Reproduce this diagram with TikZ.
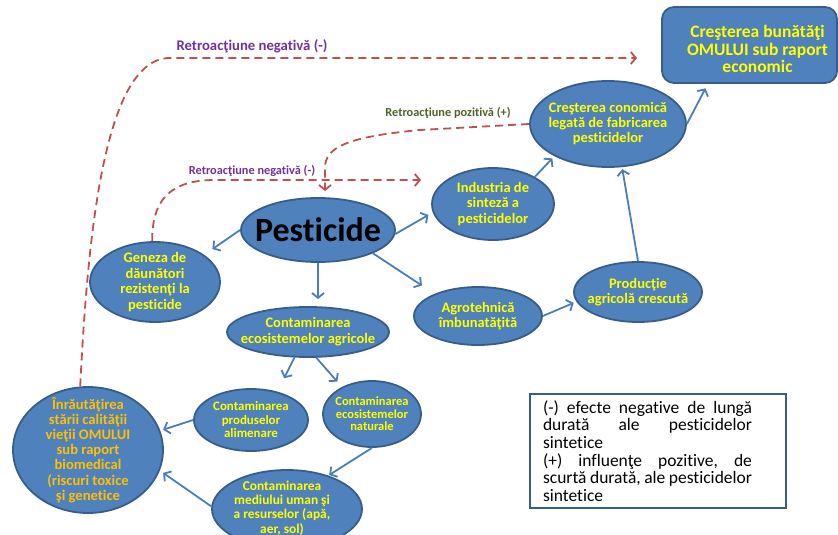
\documentclass[tikz,border=0pt]{standalone}
\usepackage{fontspec}
\setmainfont{Carlito}[Ligatures={NoCommon}]
\usetikzlibrary{shapes.geometric,arrows.meta,calc}
\definecolor{bfill}{HTML}{4F81BD}
\definecolor{bdraw}{HTML}{385D8A}
\definecolor{arrblue}{HTML}{4A7EBB}
\definecolor{fbred}{HTML}{C0504D}
\definecolor{purp}{HTML}{7030A0}
\definecolor{olivegreen}{HTML}{4F6228}
\definecolor{yel}{HTML}{FFFF00}
\definecolor{orng}{HTML}{FFC000}
\begin{document}
\begin{tikzpicture}[x=1pt,y=-1pt,
  ell/.style={ellipse, fill=bfill, draw=bdraw, line width=1.8pt, inner sep=0pt},
  etx/.style={align=center, text=yel, inner sep=0pt},
  arr/.style={draw=arrblue, line width=1.8pt, -{Straight Barb[length=5pt,width=12pt]}},
  fb/.style={draw=fbred, line width=1.8pt, dash pattern=on 8pt off 5pt, -{Straight Barb[length=5pt,width=12pt]}},
  fbl/.style={font=\bfseries\fontsize{12.3}{14}\selectfont, inner sep=0pt}
]
\useasboundingbox (0,0) rectangle (838,535);
\clip (0,0) rectangle (838,535);

% nodes
\node[rectangle, rounded corners=12pt, fill=bfill, draw=bdraw, line width=1.8pt,
      minimum width=175pt, minimum height=76pt, inner sep=0pt,
      label={[etx, xshift=8pt, yshift=-4pt, font=\bfseries\fontsize{17.5}{17.8}\selectfont]center:{Creşterea bunătăţi\\OMULUI sub raport\\economic}}] (top) at (749.5,45) {};

\node[ell, minimum width=154pt, minimum height=64pt,
      label={[etx, text=black, font=\bfseries\fontsize{34}{36}\selectfont]center:Pesticide}] (pest) at (318,230) {};

\node[ell, minimum width=130pt, minimum height=80pt,
      label={[etx, font=\bfseries\fontsize{14.5}{15.5}\selectfont]center:{Geneza de\\dăunători\\rezistenţi la\\pesticide}}] (gen) at (155,282) {};

\node[ell, minimum width=162pt, minimum height=50pt,
      label={[etx, font=\bfseries\fontsize{14.5}{16}\selectfont]center:{Contaminarea\\ecosistemelor agricole}}] (agr) at (308,332) {};

\node[ell, minimum width=122pt, minimum height=72pt,
      label={[etx, font=\bfseries\fontsize{14.5}{15.5}\selectfont]center:{Industria de\\sinteză a\\pesticidelor}}] (ind) at (493,204) {};

\node[ell, minimum width=156pt, minimum height=86pt,
      label={[etx, font=\bfseries\fontsize{14.5}{15}\selectfont]center:{Creşterea conomică\\legată de fabricarea\\pesticidelor}}] (cre) at (608,124) {};

\node[ell, minimum width=128pt, minimum height=58pt,
      label={[etx, font=\bfseries\fontsize{14.5}{15}\selectfont]center:{Agrotehnică\\îmbunatăţită}}] (agt) at (478,316) {};

\node[ell, minimum width=128pt, minimum height=60pt,
      label={[etx, font=\bfseries\fontsize{14.5}{15}\selectfont]center:{Producţie\\agricolă crescută}}] (prod) at (638,292) {};

\node[ell, minimum width=150pt, minimum height=126pt,
      label={[etx, text=orng, font=\bfseries\fontsize{14.6}{15.2}\selectfont]center:{Înrăutăţirea\\stării calităţii\\vieţii OMULUI\\sub raport\\biomedical\\(riscuri toxice\\şi genetice}}] (inr) at (88,450) {};

\node[ell, minimum width=114pt, minimum height=62pt,
      label={[etx, font=\bfseries\fontsize{12.9}{13.5}\selectfont]center:{Contaminarea\\produselor\\alimenare}}] (cpa) at (251,420) {};

\node[ell, minimum width=98pt, minimum height=66pt,
      label={[etx, font=\bfseries\fontsize{12.5}{12.5}\selectfont]center:{Contaminarea\\ecosistemelor\\naturale}}] (nat) at (372,414) {};

\node[ell, minimum width=150pt, minimum height=78pt,
      label={[etx, xshift=-5pt, yshift=1pt, font=\bfseries\fontsize{13.4}{14.3}\selectfont]center:{Contaminarea\\mediului uman şi\\a resurselor (apă,\\aer, sol)}}] (med) at (287,509) {};

% legend
\node[rectangle, draw=bdraw, line width=2pt, fill=white, minimum width=256pt, minimum height=114pt,
      text width=230pt, inner xsep=13pt, inner ysep=4pt, align=left,
      font=\fontsize{17.5}{17.6}\selectfont] (leg) at (658,451)
  {\makebox[209pt][l]{(-)\hfill efecte\hfill negative\hfill de\hfill lungă}\\
   \makebox[209pt][l]{durată\hfill ale\hfill pesticidelor}\\
   sintetice\\
   \makebox[209pt][l]{(+)\hfill influenţe\hfill pozitive,\hfill de}\\
   \makebox[209pt][l]{scurtă\hfill durată,\hfill ale\hfill pesticidelor}\\
   sintetice};

% blue arrows
\draw[arr, shorten >=10pt] (pest.180) -- (gen.29);
\draw[arr, shorten >=7pt] (pest.south) -- (pest.south |- agr.north);
\draw[arr, shorten >=5pt] (pest.-3) -- (ind.188);
\draw[arr, shorten >=15pt] (pest.-23) -- (agt.153);
\draw[arr, shorten >=3pt] (ind.33) -- (cre.211);
\draw[arr, shorten >=2pt] (prod.north) -- (cre.-72);
\draw[arr, shorten >=5pt] (cre.east) -- (top.223);
\draw[arr, shorten >=3pt] (agt.east) -- (prod.189);
\draw[arr, shorten >=15pt] (agr.242) -- (cpa.47);
\draw[arr, shorten >=7pt] (agr.-72) -- (nat.138);
\draw[arr, shorten >=3pt] (cpa.west) -- (inr.15);
\draw[arr, shorten >=1pt] (nat.south) -- (med.39);
\draw[arr, shorten >=4pt] (med.178) -- (inr.-16);

% feedback loops
\coordinate (fbA) at (637,58);
\coordinate (fbB) at (421,180);
\coordinate (fbC) at (325,168);
\draw[fb] (inr.97) .. controls (88,230) and (105,58) .. (170,58) -- (fbA);
\draw[fb] (gen.94) .. controls (152,200) and (170,180) .. (215,180) -- (fbB);
\draw[fb, shorten >=6pt] (cre.west) -- (420,130) .. controls (345,137) and (325,148) .. (fbC) -- (fbC |- pest.north);

\node[fbl, text=purp, font=\bfseries\fontsize{14.7}{16}\selectfont] (lA) at (252,46) {Retroacţiune negativă (-)};
\node[fbl, text=purp] (lB) at (252,171) {Retroacţiune negativă (-)};
\node[fbl, text=olivegreen] (lC) at (448,113) {Retroacţiune pozitivă (+)};
\end{tikzpicture}
\end{document}
